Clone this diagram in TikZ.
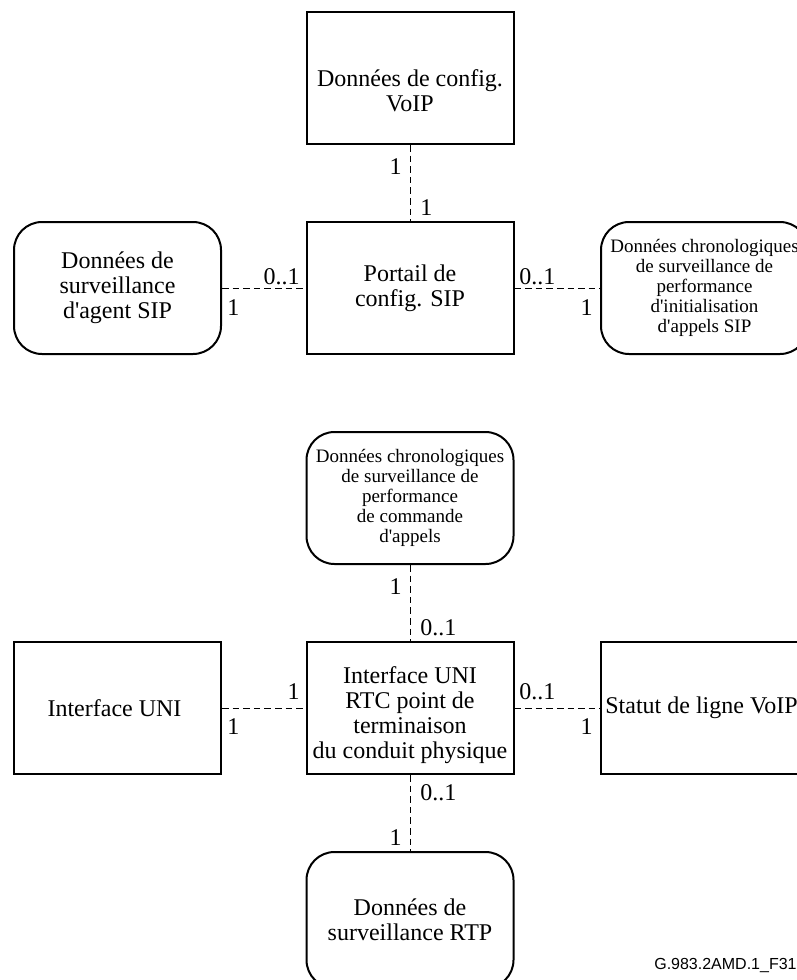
\documentclass[tikz,border=0pt]{standalone}
\usepackage{fontspec}
\setmainfont{Liberation Serif}[Ligatures=TeXOff]
\setsansfont{Liberation Sans}

\newcommand{\pushdown}[1]{\rule{0pt}{#1}}

\begin{document}
\begin{tikzpicture}[x=0.5pt,y=-0.5pt,every node/.style = {align=center, inner sep=1pt, font=\fontsize{12}{12.5}\selectfont}]
		\tikzset{
			box/.style = { draw, line width=1pt, minimum width=103.5pt, minimum height=66pt },
			roundbox/.style = { box, rounded corners=14pt },
			smalltext/.style = { font=\fontsize{9.5}{10}\selectfont },
			link/.style = { dashed, dash pattern=on 3.3pt off 2pt, line width=0.5pt },
		}
		\useasboundingbox (0,0) rectangle (797,980);
		\node[box] (voip) at (410,78) { \pushdown{21pt}Données de config.\\VoIP };
		\node[box] (portail) at (410,288) { Portail de\\config. SIP };
		\node[roundbox] (agent) at (117.5,288) { Données de\\surveillance\\d'agent SIP };
		\node[roundbox, smalltext] (initapp) at (704.5,288) { Données chronologiques\\de surveillance de\\performance\\d'initialisation\\d'appels SIP };
		\node[roundbox, smalltext] (cmdapp) at (410,498) { Données chronologiques\\de surveillance de\\performance\\de commande\\d'appels };
		\node[box] (rtc) at (410,708) { \pushdown{16pt}Interface UNI\\RTC point de\\terminaison\\du conduit physique };
		\node[box] (uni) at (117.5,708) { Interface UNI };
		\node[box] (statut) at (704.5,708) { Statut de ligne VoIP };
		\node[roundbox, minimum height=68pt] (rtp) at (410,920) { Données de\\surveillance RTP };

		\draw[link] (voip) -- (portail);
		\draw[link] (agent) -- (portail);
		\draw[link] (portail) -- (initapp);
		\draw[link] (cmdapp) -- (rtc);
		\draw[link] (uni) -- (rtc);
		\draw[link] (rtc) -- (statut);
		\draw[link] (rtc) -- (rtp);

		\node[anchor=east] (m1) at (404,167) {1};
		\node[anchor=west] (m2) at (418,208) {1};
		\node[anchor=east] (m3) at (302,277) {0..1};
		\node[anchor=west] (m4) at (225,308) {1};
		\node[anchor=west] (m5) at (517,277) {0..1};
		\node[anchor=east] (m6) at (595,308) {1};
		\node[anchor=east] (m7) at (404,587) {1};
		\node[anchor=west] (m8) at (418,628) {0..1};
		\node[anchor=east] (m9) at (302,692) {1};
		\node[anchor=west] (m10) at (225,727) {1};
		\node[anchor=west] (m11) at (517,692) {0..1};
		\node[anchor=east] (m12) at (595,727) {1};
		\node[anchor=west] (m13) at (418,793) {0..1};
		\node[anchor=east] (m14) at (404,838) {1};

		\node[anchor=east, font=\sffamily\fontsize{8}{8}\selectfont] (fig) at (799,965) {G.983.2AMD.1\_F31};
\end{tikzpicture}
\end{document}
